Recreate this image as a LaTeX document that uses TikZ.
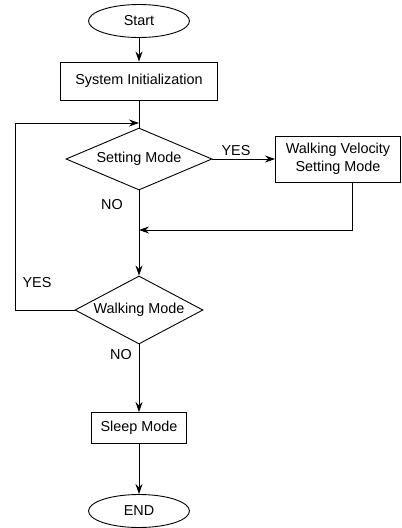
\documentclass[tikz,border=0pt]{standalone}
\usepackage{fontspec}
\setmainfont{Liberation Sans}
\usetikzlibrary{shapes.geometric,arrows.meta}

\begin{document}
\begin{tikzpicture}[x=1pt,y=-1pt,line width=0.9pt,
  every node/.style={font=\fontsize{14.4}{18}\selectfont},
  term/.style={draw,ellipse,minimum width=101pt,minimum height=33pt,inner sep=0pt},
  proc/.style={draw,rectangle,inner sep=0pt},
  decide/.style={draw,diamond,inner sep=0pt},
  arr/.style={-{Stealth[length=10pt,width=7pt]}}]
  \useasboundingbox (0,0) rectangle (402,528);
  % boxes
  \node[term] (start) at (139,21) {Start};
  \node[proc,minimum width=157pt,minimum height=38pt] (init) at (139,81) {System Initialization};
  \node[decide,aspect=2.35,minimum width=146pt,minimum height=62pt] (setm) at (139,159) {Setting Mode};
  \node[proc,minimum width=125pt,minimum height=46pt,align=center] (vel) at (338,159) {Walking Velocity\\Setting Mode};
  \node[decide,aspect=1.88,minimum width=128pt,minimum height=68pt] (walk) at (139,310) {Walking Mode};
  \node[proc,minimum width=95pt,minimum height=31pt] (sleep) at (139,428) {Sleep Mode};
  \node[term] (end) at (139,511) {END};
  % labels
  \node (yes1) at (236,151) {YES};
  \node (no1) at (112,205) {NO};
  \node (yes2) at (37,283) {YES};
  \node (no2) at (121,355) {NO};
  % bends
  \coordinate (merge) at (139,230);
  \coordinate (back) at (139,123);
  \coordinate (loopb) at (15,310);
  \coordinate (loopt) at (15,123);
  \coordinate (velout) at (352,182);
  % flow
  \draw[arr] (start) -- (init);
  \draw (init) -- (setm);
  \draw[arr] (setm) -- (vel);
  \draw[arr] (velout) |- (merge);
  \draw[arr] (setm) -- (walk);
  \draw[arr] (walk.west) -- (loopb) -- (loopt) -- (back);
  \draw[arr] (walk) -- (sleep);
  \draw[arr] (sleep) -- (end);
\end{tikzpicture}
\end{document}
